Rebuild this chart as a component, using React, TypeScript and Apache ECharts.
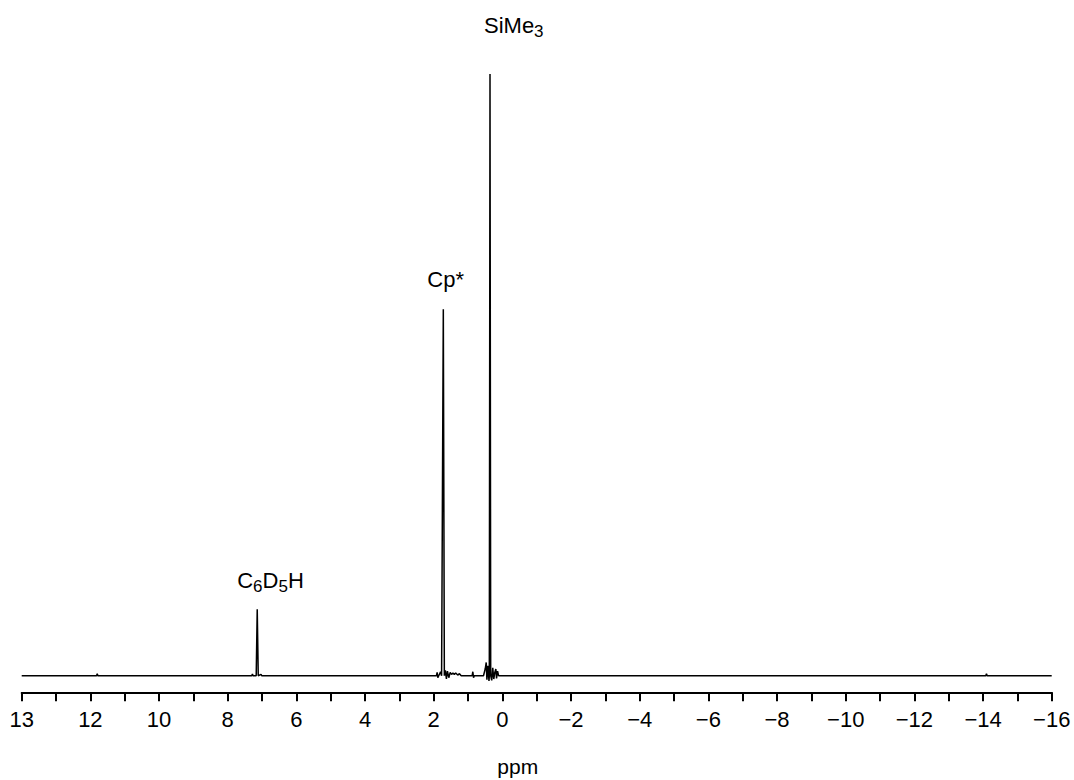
import React, { useEffect, useRef } from "react";
import * as echarts from "echarts";

// Spectrum trace: chemical shift (ppm) and intensity (arbitrary units)
const shiftPpm = [
  14.0, 11.82, 11.8, 11.78, 7.3, 7.28, 7.26, 7.17, 7.14, 7.11, 7.03, 7.01,
  1.92, 1.9, 1.88, 1.8, 1.77, 1.72, 1.69, 1.66, 1.63, 1.6, 1.56, 1.52, 1.48,
  1.44, 1.4, 1.36, 1.3, 1.25, 1.2, 0.88, 0.86, 0.84, 0.82, 0.55, 0.5, 0.47,
  0.45, 0.42, 0.39, 0.38, 0.36, 0.34, 0.31, 0.28, 0.25, 0.22, 0.19, 0.17,
  0.14, 0.11, -14.08, -14.1, -14.12, -16.0,
];
const intensity = [
  0, 0, 0.3, 0, 0, 0.25, 0, 0, 10.0, 0, 0.2, 0,
  0, 0.5, -0.3, 0.6, 0, 55.2, 0, 0.8, -0.5, 0.7, -0.3, 0.5, 0.2,
  0.4, 0.2, 0.4, 0.1, 0.3, 0, 0, 0.6, -0.3, 0, 0, 1.0, 2.0,
  -0.6, 1.5, -0.8, 0, 90.6, 0, -0.7, 1.2, -0.5, 0.5, 1.0, -0.4,
  0.7, 0, 0, 0.3, 0, 0,
];

// Peak annotations
const peakNames = ["SiMe3", "Cp*", "C6D5H"];
const peakPpm = [0.36, 1.72, 7.14];
const peakHeight = [90.6, 55.2, 10.0];
const peakRich = ["{m|SiMe}{s|3}", "{m|Cp*}", "{m|C}{s|6}{m|D}{s|5}{m|H}"];

// Axis ticks
const tickValues = [14, 12, 10, 8, 6, 4, 2, 0, -2, -4, -6, -8, -10, -12, -14, -16];
const tickLabels = ["13", "12", "10", "8", "6", "4", "2", "0", "\u22122", "\u22124", "\u22126", "\u22128", "\u221210", "\u221212", "\u221214", "\u221216"];

const FONT = "'Liberation Sans', Arial, sans-serif";
const labelPos: number[][] = [
  [-6, -60],
  [-16, -41],
  [-20, -40],
];

export default function App() {
  const ref = useRef<HTMLDivElement>(null);
  useEffect(() => {
    if (!ref.current) return;
    const chart = echarts.init(ref.current, undefined, { renderer: "svg" });
    const data = shiftPpm.map((x, i) => [x, intensity[i]]);
    const rich = {
      m: { fontSize: 22, fontFamily: FONT, color: "#000", lineHeight: 26, verticalAlign: "top" },
      s: { fontSize: 17, fontFamily: FONT, color: "#000", lineHeight: 2, verticalAlign: "bottom" },
    };
    chart.setOption({
      animation: false,
      backgroundColor: "#fff",
      grid: {
        left: 21.7,
        right: 22.3,
        top: 11.7,
        bottom: 87.7,
        containLabel: false,
        outerBoundsMode: "none",
      },
      xAxis: {
        type: "value",
        min: -16,
        max: 14,
        interval: 1,
        inverse: true,
        splitLine: { show: false },
        axisLine: { onZero: false, lineStyle: { color: "#000", width: 2 } },
        axisTick: { show: true, length: 9, lineStyle: { color: "#000", width: 2 } },
        axisLabel: {
          margin: 16,
          fontSize: 22,
          fontFamily: FONT,
          color: "#000",
          showMinLabel: true,
          showMaxLabel: true,
          formatter: (v: number) => {
            const idx = tickValues.indexOf(Math.round(v));
            return idx >= 0 ? tickLabels[idx] : "";
          },
        },
        name: "ppm",
        nameLocation: "middle",
        nameGap: 64,
        nameTextStyle: { fontSize: 21, fontFamily: FONT, color: "#000", padding: [0, 38, 0, 0] },
      },
      yAxis: {
        type: "value",
        min: -2.5,
        max: 100,
        show: false,
      },
      series: [
        {
          type: "line",
          data,
          showSymbol: false,
          symbol: "none",
          lineStyle: { color: "#000", width: 1.5 },
          markPoint: {
            symbol: "circle",
            symbolSize: 0,
            data: peakNames.map((n, i) => ({
              name: n,
              coord: [peakPpm[i], peakHeight[i]],
              label: {
                show: true,
                position: labelPos[i],
                align: "left",
                verticalAlign: "top",
                formatter: peakRich[i],
                rich,
              },
            })),
          },
        },
      ],
    });
    return () => chart.dispose();
  }, []);
  return (
    <div
      ref={ref}
      style={{ position: "fixed", left: 0, top: 0, width: 1074, height: 780, background: "#fff" }}
    />
  );
}
